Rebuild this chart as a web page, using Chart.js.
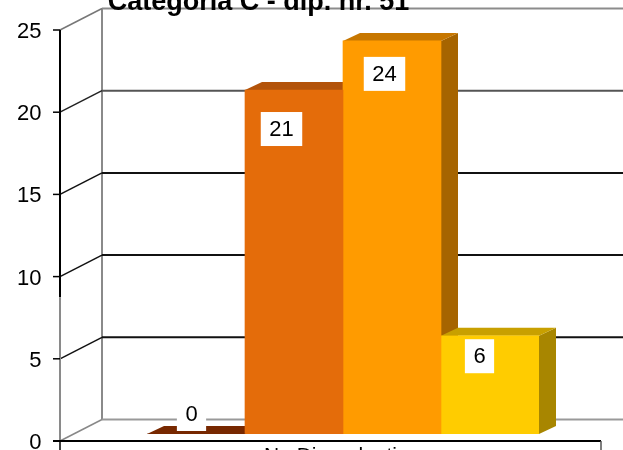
<!DOCTYPE html>
<html><head><meta charset="utf-8">
<script src="https://cdn.jsdelivr.net/npm/chart.js@4"></script>
<style>html,body{margin:0;padding:0;background:#fff;}#wrap{width:623px;height:450px;overflow:hidden;}</style>
</head><body><div id="wrap"><canvas id="c" width="623" height="450"></canvas></div>
<script>
const chartTitle = 'Categoria C - dip. nr. 51';
const categories = ['Nr. Dipendenti'];
const seriesNames = ['Serie 1', 'Serie 2', 'Serie 3', 'Serie 4'];
const seriesValues = [0, 21, 24, 6];
const yTicks = [0, 5, 10, 15, 20, 25];

// styles
const frontColors = ['#7a2a00', '#e46c0a', '#ff9b00', '#ffcc00'];
const topColors = ['#772800', '#b3530a', '#c77700', '#c8a000'];
const sideColors = ['#5a1e00', '#a04a08', '#a66400', '#a88600'];
const labelShiftX = [-4.5, -12.5, -7.5, -10.5];
const labelShiftY = [-20, 39, 33, 20.5];
const backGridColors = {0: '#999999', 5: '#111111', 10: '#111111', 15: '#111111', 20: '#555555', 25: '#8c8c8c'};
const diagColors = {0: '#888888', 5: '#111111', 10: '#111111', 15: '#111111', 20: '#222222', 25: '#777777'};

const DEPTH_X = 17, DEPTH_Y = -8;
const FRONT_X = 60, BACK_X = 102, RIGHT_X = 601;
const FONT = '"Liberation Sans", Arial, sans-serif';

function frontY(ys, v) { return ys.getPixelForValue(v) + 7 - v * 0.06; }
function backY(ys, v) { return frontY(ys, v) - 21.5; }

function line(ctx, x1, y1, x2, y2, color, w) {
  ctx.beginPath(); ctx.moveTo(x1, y1); ctx.lineTo(x2, y2);
  ctx.strokeStyle = color; ctx.lineWidth = w; ctx.stroke();
}
function poly(ctx, pts, color) {
  ctx.beginPath(); ctx.moveTo(pts[0][0], pts[0][1]);
  for (let i = 1; i < pts.length; i++) ctx.lineTo(pts[i][0], pts[i][1]);
  ctx.closePath(); ctx.fillStyle = color; ctx.fill();
}

const frame3d = {
  id: 'frame3d',
  beforeDatasetsDraw(chart) {
    const ctx = chart.ctx, ys = chart.scales.y, W = chart.width, H = chart.height;
    ctx.save();
    line(ctx, BACK_X, backY(ys, 25), BACK_X, backY(ys, 0), '#8a8a8a', 2);
    yTicks.forEach(v => {
      const by = backY(ys, v), fy = frontY(ys, v);
      line(ctx, BACK_X, by, W, by, backGridColors[v], 2);
      line(ctx, FRONT_X, fy, BACK_X, by, diagColors[v], 1.5);
    });
    line(ctx, FRONT_X, frontY(ys, 25), FRONT_X, frontY(ys, 8.75), '#000000', 2);
    line(ctx, FRONT_X, frontY(ys, 8.75), FRONT_X, frontY(ys, 0), '#8a8a8a', 2);
    yTicks.forEach(v => {
      const fy = frontY(ys, v);
      line(ctx, FRONT_X - 7, fy, FRONT_X, fy, '#000000', 1.5);
    });
    const f0 = frontY(ys, 0);
    line(ctx, FRONT_X - 7, f0, RIGHT_X, f0, '#000000', 2);
    line(ctx, FRONT_X, f0, FRONT_X, H, '#000000', 1.5);
    line(ctx, RIGHT_X, f0, RIGHT_X, H, '#555555', 1.5);
    chart.data.datasets.forEach((ds, i) => {
      const el = chart.getDatasetMeta(i).data[0];
      const p = el.getProps(['x', 'y', 'base', 'width'], true);
      const l = p.x - p.width / 2, r = p.x + p.width / 2, t = p.y, b = p.base;
      poly(ctx, [[r, t], [r + DEPTH_X, t + DEPTH_Y], [r + DEPTH_X, b + DEPTH_Y], [r, b]], sideColors[i]);
      poly(ctx, [[l, t], [l + DEPTH_X, t + DEPTH_Y], [r + DEPTH_X, t + DEPTH_Y], [r, t]], topColors[i]);
    });
    ctx.restore();
  },
  afterDatasetsDraw(chart) {
    const ctx = chart.ctx;
    ctx.save();
    ctx.font = '22px ' + FONT;
    ctx.textAlign = 'center'; ctx.textBaseline = 'middle';
    chart.data.datasets.forEach((ds, i) => {
      const el = chart.getDatasetMeta(i).data[0];
      const txt = String(ds.data[0]);
      const cx = el.x + labelShiftX[i], cy = el.y + labelShiftY[i];
      const w = ctx.measureText(txt).width + 17, h = 34;
      ctx.fillStyle = '#ffffff';
      ctx.fillRect(cx - w / 2, cy - h / 2, w, h);
      ctx.fillStyle = '#000000';
      ctx.fillText(txt, cx, cy + 1);
    });
    ctx.restore();
  },
  afterDraw(chart) {
    const ctx = chart.ctx, ys = chart.scales.y;
    ctx.save();
    ctx.font = '22px ' + FONT;
    ctx.fillStyle = '#000000';
    ctx.textAlign = 'right'; ctx.textBaseline = 'middle';
    yTicks.forEach(v => ctx.fillText(String(v), 41.5, frontY(ys, v) + 2));
    ctx.font = '21px ' + FONT;
    ctx.textAlign = 'center'; ctx.textBaseline = 'alphabetic';
    ctx.fillText(categories[0], (FRONT_X + RIGHT_X) / 2, 461.5);
    ctx.font = 'bold 27px ' + FONT;
    ctx.fillText(chartTitle, 258.5, 10);
    ctx.restore();
  }
};

new Chart(document.getElementById('c'), {
  type: 'bar',
  data: {
    labels: categories,
    datasets: seriesValues.map((v, i) => ({
      label: seriesNames[i],
      data: [v],
      backgroundColor: frontColors[i],
      borderWidth: 0,
      barPercentage: 1,
      categoryPercentage: 1
    }))
  },
  options: {
    responsive: false,
    animation: false,
    layout: { padding: { left: 147, right: 84, top: 24.5, bottom: 16 } },
    plugins: { legend: { display: false }, title: { display: false }, tooltip: { enabled: false } },
    scales: {
      x: { display: false, offset: true },
      y: { display: false, min: 0, max: 25 }
    }
  },
  plugins: [frame3d]
});
</script>
</body></html>
